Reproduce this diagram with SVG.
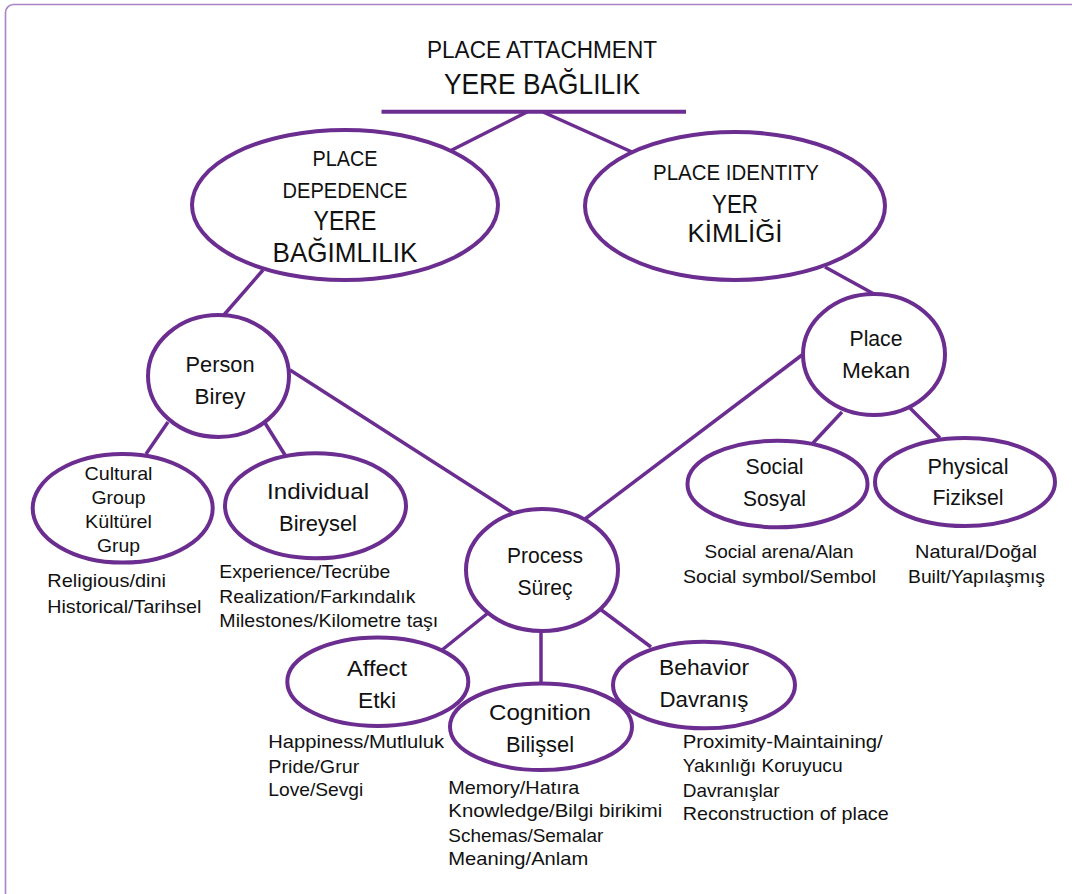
<svg xmlns="http://www.w3.org/2000/svg" width="1072" height="894" viewBox="0 0 1072 894">
<style>
.n{fill:#fff;stroke:#6b2d90;stroke-width:4}
.c{stroke:#6b2d90;stroke-width:3.5;fill:none;stroke-linecap:butt}
text{font-family:"Liberation Sans","Open Sans",Arial,sans-serif;fill:#111}
.m{text-anchor:middle}
.big{font-size:27px}
.mid{font-size:22px}
.cap{font-size:22.5px}
.sm{font-size:19px}
.cg{font-size:19px}
</style>
<rect x="5.5" y="4.5" width="1100" height="950" rx="8" fill="#fff" stroke="#a983c6" stroke-width="1.6"/>
<g id="connectors">
<line class="c" x1="527" y1="112" x2="448" y2="152"/>
<line class="c" x1="543" y1="112" x2="632" y2="152"/>
<line class="c" x1="263" y1="270" x2="223" y2="316"/>
<line class="c" x1="825" y1="267" x2="874" y2="294"/>
<line class="c" x1="168" y1="422" x2="146" y2="454"/>
<line class="c" x1="265" y1="423" x2="285" y2="455"/>
<line class="c" x1="290" y1="370" x2="513" y2="513"/>
<line class="c" x1="802" y1="355" x2="585" y2="519"/>
<line class="c" x1="842" y1="412" x2="813" y2="443"/>
<line class="c" x1="910" y1="408" x2="940" y2="438"/>
<line class="c" x1="488" y1="613" x2="442" y2="650"/>
<line class="c" x1="541" y1="631" x2="541" y2="683"/>
<line class="c" x1="600" y1="609" x2="651" y2="647"/>
</g>
<g id="title">
<text class="m" x="542" y="57.5" font-size="24.5" textLength="230" lengthAdjust="spacingAndGlyphs">PLACE ATTACHMENT</text>
<text class="m" x="542" y="94" font-size="29" textLength="196" lengthAdjust="spacingAndGlyphs">YERE BAĞLILIK</text>
<line x1="381.5" y1="111.7" x2="686" y2="111.7" stroke="#6b2d90" stroke-width="4"/>
</g>
<g id="place-dependence">
<ellipse class="n" cx="345" cy="205" rx="153" ry="75"/>
<text class="m cap" x="345" y="165.7" textLength="65" lengthAdjust="spacingAndGlyphs">PLACE</text>
<text class="m cap" x="345" y="197.7" textLength="125" lengthAdjust="spacingAndGlyphs">DEPEDENCE</text>
<text class="m big" x="345" y="230" textLength="63" lengthAdjust="spacingAndGlyphs">YERE</text>
<text class="m big" x="345" y="261.7" textLength="145" lengthAdjust="spacingAndGlyphs">BAĞIMLILIK</text>
</g>
<g id="place-identity">
<ellipse class="n" cx="735" cy="206" rx="150" ry="74"/>
<text class="m cap" x="736" y="180" textLength="166" lengthAdjust="spacingAndGlyphs">PLACE IDENTITY</text>
<text class="m" font-size="25.5" x="735" y="212.7" textLength="46" lengthAdjust="spacingAndGlyphs">YER</text>
<text class="m" font-size="25.5" x="735" y="241.7" textLength="95" lengthAdjust="spacingAndGlyphs">KİMLİĞİ</text>
</g>
<g id="person">
<ellipse class="n" cx="218.5" cy="376" rx="70.5" ry="61"/>
<text class="m mid" x="220" y="371.7" textLength="69" lengthAdjust="spacingAndGlyphs">Person</text>
<text class="m mid" x="220" y="404" textLength="51" lengthAdjust="spacingAndGlyphs">Birey</text>
</g>
<g id="cultural-group">
<ellipse class="n" cx="122.7" cy="508.3" rx="90" ry="54.3"/>
<text class="m cg" x="118.5" y="480" textLength="68" lengthAdjust="spacingAndGlyphs">Cultural</text>
<text class="m cg" x="118.5" y="503.5" textLength="54" lengthAdjust="spacingAndGlyphs">Group</text>
<text class="m cg" x="118.5" y="528" textLength="67" lengthAdjust="spacingAndGlyphs">Kültürel</text>
<text class="m cg" x="118.5" y="551.5" textLength="43" lengthAdjust="spacingAndGlyphs">Grup</text>
</g>
<g id="individual">
<ellipse class="n" cx="315.5" cy="505.8" rx="90.5" ry="52.5"/>
<text class="m mid" x="318" y="499" textLength="102" lengthAdjust="spacingAndGlyphs">Individual</text>
<text class="m mid" x="318" y="530.7" textLength="78" lengthAdjust="spacingAndGlyphs">Bireysel</text>
</g>
<g id="place">
<ellipse class="n" cx="874" cy="354.5" rx="71" ry="60.5"/>
<text class="m mid" x="876" y="346" textLength="53" lengthAdjust="spacingAndGlyphs">Place</text>
<text class="m mid" x="876" y="378.3" textLength="68" lengthAdjust="spacingAndGlyphs">Mekan</text>
</g>
<g id="social">
<ellipse class="n" cx="777.5" cy="484" rx="90" ry="43.3"/>
<text class="m mid" x="774.5" y="474" textLength="58" lengthAdjust="spacingAndGlyphs">Social</text>
<text class="m mid" x="774.5" y="506" textLength="63" lengthAdjust="spacingAndGlyphs">Sosyal</text>
</g>
<g id="physical">
<ellipse class="n" cx="965" cy="482" rx="90" ry="44"/>
<text class="m mid" x="968" y="474" textLength="81" lengthAdjust="spacingAndGlyphs">Physical</text>
<text class="m mid" x="968" y="505" textLength="71" lengthAdjust="spacingAndGlyphs">Fiziksel</text>
</g>
<g id="process">
<ellipse class="n" cx="542" cy="570" rx="76" ry="61"/>
<text class="m mid" x="545" y="563.3" textLength="76" lengthAdjust="spacingAndGlyphs">Process</text>
<text class="m mid" x="545" y="595" textLength="55" lengthAdjust="spacingAndGlyphs">Süreç</text>
</g>
<g id="affect">
<ellipse class="n" cx="377.8" cy="681.7" rx="90.5" ry="44.3"/>
<text class="m mid" x="377" y="676" textLength="60" lengthAdjust="spacingAndGlyphs">Affect</text>
<text class="m mid" x="377" y="708.3" textLength="38" lengthAdjust="spacingAndGlyphs">Etki</text>
</g>
<g id="cognition">
<ellipse class="n" cx="541" cy="726.7" rx="91" ry="43.3"/>
<text class="m mid" x="540" y="720" textLength="102" lengthAdjust="spacingAndGlyphs">Cognition</text>
<text class="m mid" x="540" y="751.7" textLength="68" lengthAdjust="spacingAndGlyphs">Bilişsel</text>
</g>
<g id="behavior">
<ellipse class="n" cx="704" cy="685" rx="91" ry="43.3"/>
<text class="m mid" x="704" y="675" textLength="90" lengthAdjust="spacingAndGlyphs">Behavior</text>
<text class="m mid" x="704" y="707.3" textLength="89" lengthAdjust="spacingAndGlyphs">Davranış</text>
</g>
<g id="cultural-notes">
<text class="sm" x="47.3" y="586.7" textLength="118.7" lengthAdjust="spacingAndGlyphs">Religious/dini</text>
<text class="sm" x="47.3" y="612.7" textLength="154" lengthAdjust="spacingAndGlyphs">Historical/Tarihsel</text>
</g>
<g id="individual-notes">
<text class="sm" x="219.3" y="578.3" textLength="171" lengthAdjust="spacingAndGlyphs">Experience/Tecrübe</text>
<text class="sm" x="219.3" y="603.3" textLength="196" lengthAdjust="spacingAndGlyphs">Realization/Farkındalık</text>
<text class="sm" x="219.3" y="627.3" textLength="219" lengthAdjust="spacingAndGlyphs">Milestones/Kilometre taşı</text>
</g>
<g id="social-notes">
<text class="sm m" x="779" y="558.3" textLength="149" lengthAdjust="spacingAndGlyphs">Social arena/Alan</text>
<text class="sm m" x="779.5" y="583.3" textLength="193" lengthAdjust="spacingAndGlyphs">Social symbol/Sembol</text>
</g>
<g id="physical-notes">
<text class="sm m" x="976" y="558.3" textLength="122" lengthAdjust="spacingAndGlyphs">Natural/Doğal</text>
<text class="sm m" x="976.5" y="583.3" textLength="137" lengthAdjust="spacingAndGlyphs">Built/Yapılaşmış</text>
</g>
<g id="affect-notes">
<text class="sm" x="268.3" y="748.3" textLength="175.7" lengthAdjust="spacingAndGlyphs">Happiness/Mutluluk</text>
<text class="sm" x="268.3" y="772.7" textLength="91" lengthAdjust="spacingAndGlyphs">Pride/Grur</text>
<text class="sm" x="268.3" y="796" textLength="95" lengthAdjust="spacingAndGlyphs">Love/Sevgi</text>
</g>
<g id="cognition-notes">
<text class="sm" x="448.3" y="794" textLength="131" lengthAdjust="spacingAndGlyphs">Memory/Hatıra</text>
<text class="sm" x="448.3" y="817.3" textLength="214" lengthAdjust="spacingAndGlyphs">Knowledge/Bilgi birikimi</text>
<text class="sm" x="448.3" y="841.7" textLength="155" lengthAdjust="spacingAndGlyphs">Schemas/Semalar</text>
<text class="sm" x="448.3" y="865" textLength="140" lengthAdjust="spacingAndGlyphs">Meaning/Anlam</text>
</g>
<g id="behavior-notes">
<text class="sm" x="682.7" y="748.3" textLength="200" lengthAdjust="spacingAndGlyphs">Proximity-Maintaining/</text>
<text class="sm" x="682.7" y="771.7" textLength="160" lengthAdjust="spacingAndGlyphs">Yakınlığı Koruyucu</text>
<text class="sm" x="682.7" y="796.7" textLength="97" lengthAdjust="spacingAndGlyphs">Davranışlar</text>
<text class="sm" x="682.7" y="820" textLength="206" lengthAdjust="spacingAndGlyphs">Reconstruction of place</text>
</g>
</svg>
